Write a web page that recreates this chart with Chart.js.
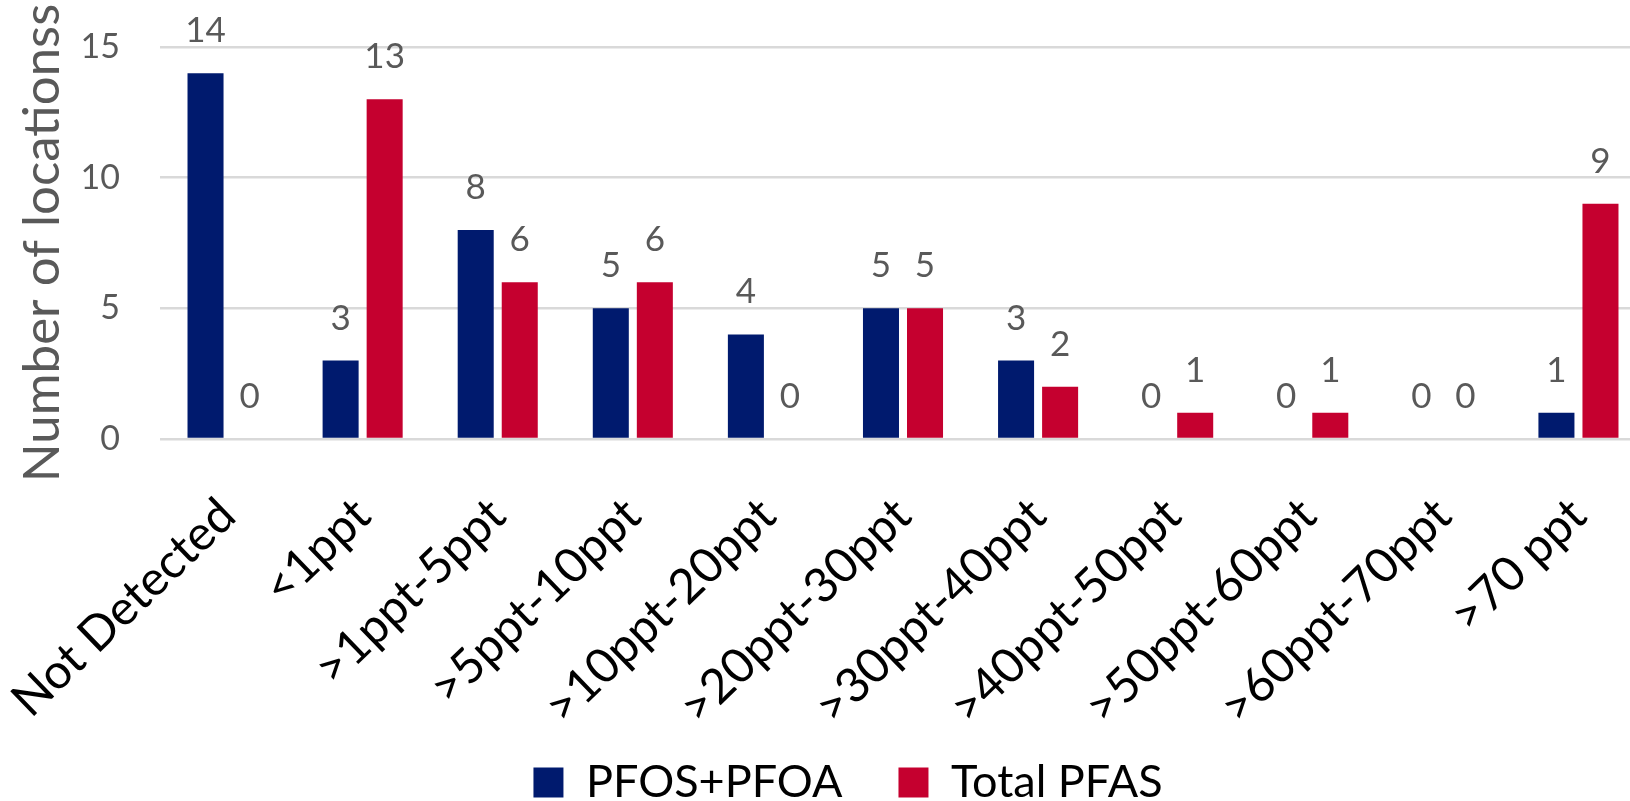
<!DOCTYPE html>
<html>
<head>
<meta charset="utf-8">
<script src="https://cdn.jsdelivr.net/npm/chart.js@4.4.1/dist/chart.umd.min.js"></script>
<style>
  html, body { margin: 0; padding: 0; background: #ffffff; overflow: hidden; }
  #wrap { position: relative; width: 1650px; height: 801px; }
</style>
</head>
<body>
<div id="wrap"><canvas id="chart"></canvas></div>
<script>
// Concentration bands
const categories = [
  'Not Detected', '<1ppt', '>1ppt-5ppt', '>5ppt-10ppt', '>10ppt-20ppt',
  '>20ppt-30ppt', '>30ppt-40ppt', '>40ppt-50ppt', '>50ppt-60ppt',
  '>60ppt-70ppt', '>70 ppt'
];
// Number of locations in each band
const pfosPfoa = [14, 3, 8, 5, 4, 5, 3, 0, 0, 0, 1];
const totalPfas = [0, 13, 6, 6, 0, 5, 2, 1, 1, 0, 9];
const seriesNames = ['PFOS+PFOA', 'Total PFAS'];
const yTicks = [0, 5, 10, 15];

const FONT = 'Lato, "Liberation Sans", sans-serif';
const GREY = '#595959';
const PLOT_BOTTOM = 439;   // y of the zero line
const PAD_BOTTOM = -14;

// Writes each bar's value above it
const valueLabels = {
  id: 'valueLabels',
  afterDatasetsDraw(chart) {
    const ctx = chart.ctx;
    ctx.save();
    ctx.font = '35px ' + FONT;
    ctx.fillStyle = GREY;
    ctx.textAlign = 'center';
    ctx.textBaseline = 'alphabetic';
    chart.data.datasets.forEach((ds, i) => {
      const meta = chart.getDatasetMeta(i);
      meta.data.forEach((bar, j) => {
        ctx.fillText(String(ds.data[j]), bar.x, bar.y - 31);
      });
    });
    ctx.restore();
  }
};

new Chart(document.getElementById('chart'), {
  type: 'bar',
  data: {
    labels: categories,
    datasets: [
      { label: seriesNames[0], data: pfosPfoa, backgroundColor: '#001a6e', borderWidth: 0 },
      { label: seriesNames[1], data: totalPfas, backgroundColor: '#c5002f', borderWidth: 0 }
    ]
  },
  options: {
    responsive: true,
    maintainAspectRatio: false,
    animation: false,
    categoryPercentage: 0.652,
    barPercentage: 0.818,
    layout: { padding: { top: 47, left: 50, right: 4, bottom: PAD_BOTTOM } },
    plugins: {
      tooltip: { enabled: false },
      legend: {
        position: 'bottom',
        labels: {
          font: { family: FONT, size: 45 },
          color: '#000000',
          boxWidth: 30,
          boxHeight: 30,
          padding: 56
        }
      }
    },
    scales: {
      x: {
        grid: { display: false, drawTicks: false },
        border: { display: false },
        ticks: {
          color: '#000000',
          font: { family: FONT, size: 48 },
          minRotation: 44,
          maxRotation: 44,
          autoSkip: false,
          padding: 48
        },
        afterFit(scale) {
          const legendH = scale.chart.legend ? scale.chart.legend.height : 0;
          scale.height = scale.chart.height - PLOT_BOTTOM - legendH - PAD_BOTTOM;
          scale.paddingLeft = 0;
          scale.paddingRight = 0;
          // let the long rotated labels run past the axis box
          scale._computeLabelArea = () => undefined;
        }
      },
      y: {
        min: 0,
        max: 15,
        afterBuildTicks(scale) { scale.ticks = yTicks.map(v => ({ value: v })); },
        grid: { color: '#d9d9d9', lineWidth: 2.5, drawTicks: false },
        border: { display: false },
        ticks: {
          color: GREY,
          font: { family: FONT, size: 34 },
          padding: 40
        },
        title: {
          display: true,
          text: 'Number of locationss',
          color: GREY,
          font: { family: FONT, size: 51 },
          padding: { top: -38, bottom: 0 }
        },
        afterFit(scale) {
          scale.width = 110;
          scale.paddingTop = 0;
          scale.paddingBottom = 0;
        }
      }
    }
  },
  plugins: [valueLabels]
});
</script>
</body>
</html>
